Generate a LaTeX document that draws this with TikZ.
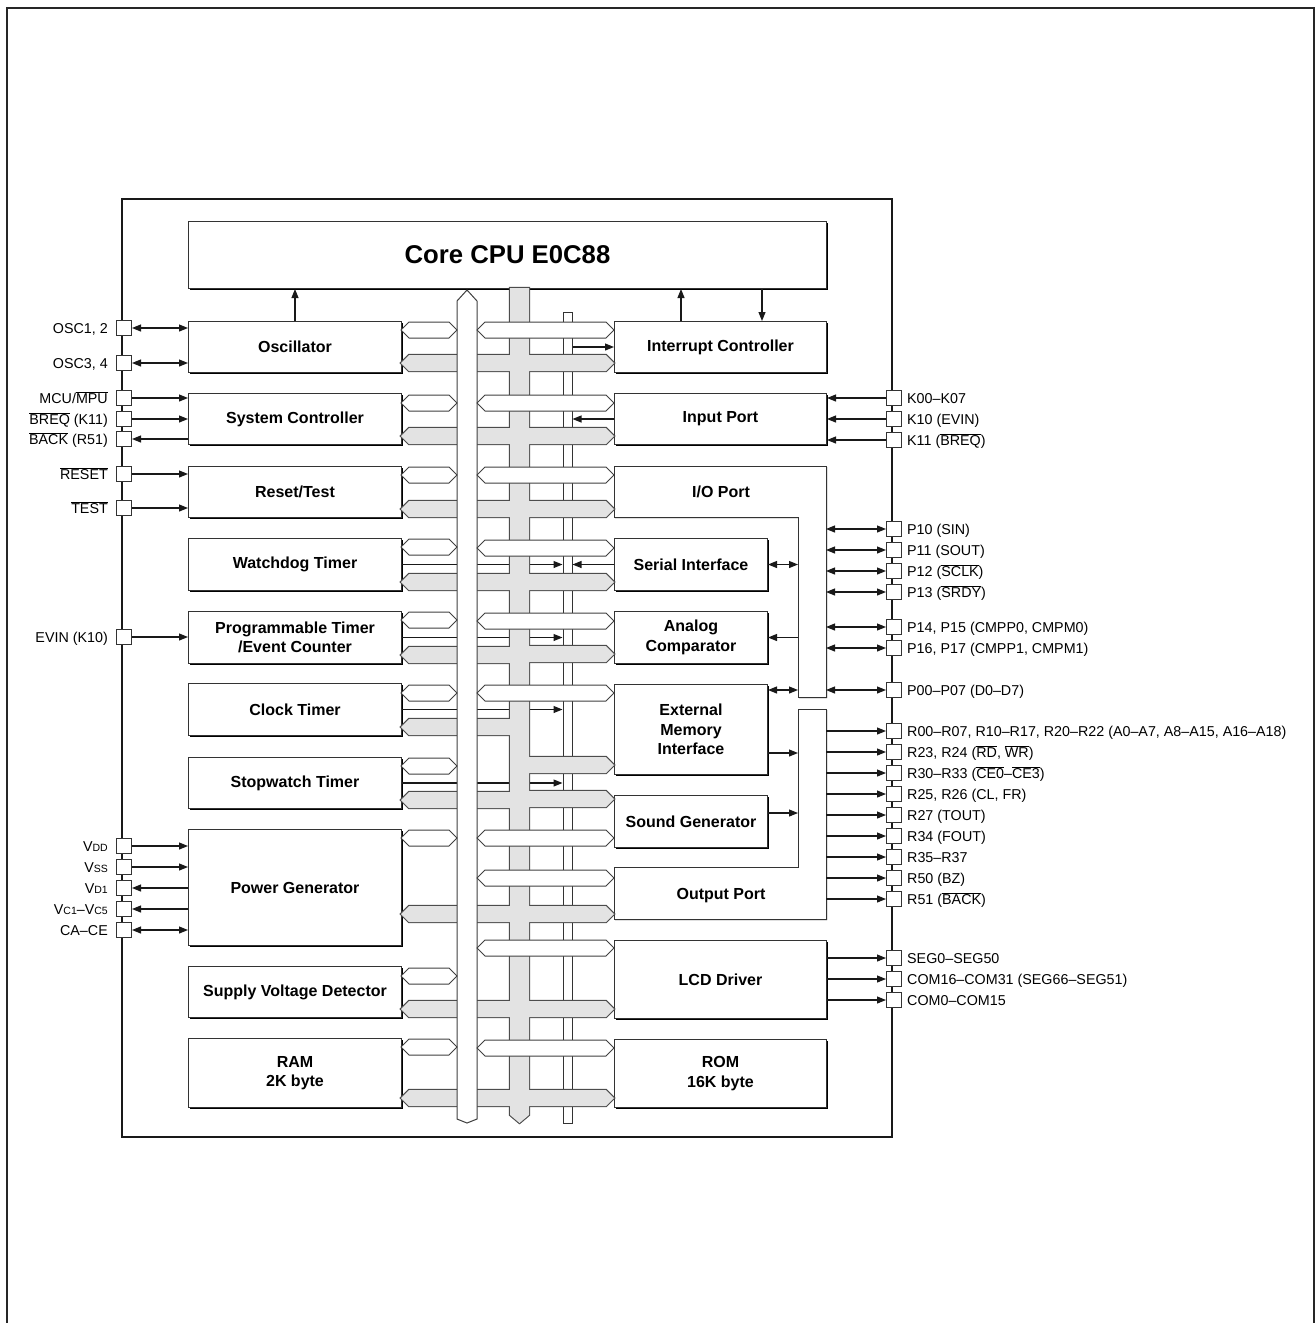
\documentclass[tikz,border=0pt]{standalone}
\usepackage{fontspec}
\setmainfont{Liberation Sans}
\usepackage{tikz}
\usetikzlibrary{arrows.meta,positioning,shadows}

\newcommand{\ovl}[1]{$\overline{\hbox{#1}}$}
\newcommand{\vsub}[1]{{\fontsize{10.5}{12}\selectfont #1}}

\tikzset{
  blk/.style={draw=black!80, fill=white, line width=1pt, inner sep=0pt,
    align=center, font=\bfseries\fontsize{16}{19.5}\selectfont,
    general shadow={fill=black, shadow xshift=1.2pt, shadow yshift=-1.2pt}},
  lblk/.style={blk, anchor=north west, minimum width=213pt},
  rblk/.style={blk, anchor=north west},
  blkline/.style={draw=black!80, fill=white, line width=1pt,
    general shadow={fill=black, shadow xshift=1.2pt, shadow yshift=-1.2pt}},
  padbox/.style={draw=black!80, fill=white, line width=1pt, minimum size=15pt, inner sep=0pt},
  lbl/.style={inner sep=0pt, text height=10.3pt, text depth=0pt,
    font=\fontsize{14.3}{17}\selectfont},
  sig/.style={draw=black!90, line width=1.1pt},
  fwd/.style={->}, bwd/.style={<-}, bidir/.style={<->},
  gout/.style={draw=black!70, line width=2.2pt},
  gin/.style={fill=black!11},
  wbus/.style={draw=black!75, fill=white, line width=1pt}
}

\begin{document}
\begin{tikzpicture}
          [x=1pt,y=-1pt,>={Triangle[length=9pt,width=7pt]}]
          \useasboundingbox (0,0) rectangle (1315,1323);
          \draw[line width=1.6pt, draw=black!85] (7,1323) -- (7,8) -- (1314,8) -- (1314,1323);
          \draw[line width=1.3pt, draw=black!90] (122,199) rectangle (892,1137);

          \node[blk, anchor=north west, minimum width=638pt, minimum height=67pt,
            font=\bfseries\fontsize{25.7}{30}\selectfont] (cpu) at (188,221) {Core CPU E0C88};

          \node[lblk, minimum height=51pt] (osc) at (188,321) {Oscillator};
          \node[lblk, minimum height=51pt] (sysc) at (188,393) {System Controller};
          \node[lblk, minimum height=51pt] (rst) at (188,466) {Reset/Test};
          \node[lblk, minimum height=52pt] (wdt) at (188,538) {Watchdog Timer};
          \node[lblk, minimum height=52pt] (ptm) at (188,611) {Programmable Timer\\/Event Counter};
          \node[lblk, minimum height=52pt] (clk) at (188,683) {Clock Timer};
          \node[lblk, minimum height=51pt] (swt) at (188,757) {Stopwatch Timer};
          \node[lblk, minimum height=116pt] (pwr) at (188,829) {Power Generator};
          \node[lblk, minimum height=51pt] (svd) at (188,966) {Supply Voltage Detector};
          \node[lblk, minimum height=69pt] (ram) at (188,1038) {RAM\\2K byte};

          \node[rblk, minimum width=212pt, minimum height=51pt] (intc) at (614,321) {Interrupt Controller};
          \node[rblk, minimum width=212pt, minimum height=51pt] (inp) at (614,393) {Input Port};
          \node[rblk, minimum width=153pt, minimum height=52pt] (sio) at (614,538) {Serial Interface};
          \node[rblk, minimum width=153pt, minimum height=52pt] (cmp) at (614,611) {Analog\\Comparator};
          \node[rblk, minimum width=153pt, minimum height=90pt] (emi) at (614,684) {External\\Memory\\Interface};
          \node[rblk, minimum width=153pt, minimum height=52pt] (snd) at (614,795) {Sound Generator};
          \node[rblk, minimum width=212pt, minimum height=78pt] (lcd) at (614,940) {LCD Driver};
          \node[rblk, minimum width=212pt, minimum height=68pt] (rom) at (614,1039) {ROM\\16K byte};

          % I/O port and output port
          \draw[blkline] (614,466) -- (826,466) -- (826,697) -- (798,697) -- (798,517) -- (614,517) -- cycle;
          \node[font=\bfseries\fontsize{16}{19.5}\selectfont] (iop) at (721,492) {I/O Port};
          \coordinate (iox) at (798,600);
          \coordinate (ioe) at (826,600);
          \draw[blkline] (614,867) -- (798,867) -- (798,709) -- (826,709) -- (826,919) -- (614,919) -- cycle;
          \node[font=\bfseries\fontsize{16}{19.5}\selectfont] (opp) at (721,896) {Output Port};
          \coordinate (opx) at (798,800);
          \coordinate (ope) at (826,800);

          % interrupt line
          \node[draw=black!80, fill=white, line width=1pt, inner sep=0pt,
            minimum width=9pt, minimum height=811pt] (irq) at (567.5,717.5) {};
          \foreach \b in {wdt,ptm,clk,swt}
            \draw[sig,->] (\b.east) -- (\b.east -| irq.west);

          % grey bus: outline pass, then fill pass
          \foreach \p in {gout,gin} {
            \path[\p] (510,288) -- (529,288) -- (529,1115) -- (519.5,1123) -- (510,1115) -- cycle;
            \foreach \y in {363,436,509,582,655,727,800,914,1009,1098}
              \path[\p] (401,\y) -- (409,\y-8) -- (516,\y-8) -- (516,\y+8) -- (409,\y+8) -- cycle;
            \foreach \y in {363,436,509,582,654,765,799,914,1009,1098}
              \path[\p] (523,\y-8) -- (606,\y-8) -- (614,\y) -- (606,\y+8) -- (523,\y+8) -- cycle;
          }

          % white bus
          \draw[wbus] (457,301) -- (467,290) -- (477,301) -- (477,1119) -- (467,1123) -- (457,1119) -- cycle;
          \foreach \y in {330,403,475,547,620,693,766,838,976,1047}
            \draw[wbus] (401,\y) -- (409,\y-8) -- (449,\y-8) -- (457,\y) -- (449,\y+8) -- (409,\y+8) -- cycle;
          \foreach \y in {330,403,475,548,621,693,838,878,948,1048}
            \draw[wbus] (477,\y) -- (485,\y-8) -- (606,\y-8) -- (614,\y) -- (606,\y+8) -- (485,\y+8) -- cycle;

          \coordinate (iu) at ([xshift=67pt]intc.north west);
          \coordinate (id) at ([xshift=148pt]intc.north west);
          \draw[sig,->] (osc.north) -- (osc.north |- cpu.south);
          \draw[sig,->] (iu) -- (iu |- cpu.south);
          \draw[sig,->] (id |- cpu.south) -- (id);

          \draw[sig,->] (intc.west -| irq.east) -- (intc.west);
          \draw[sig,->] (inp.west) -- (inp.west -| irq.east);
          \draw[sig,->] (sio.west) -- (sio.west -| irq.east);

          \coordinate (ea) at ([yshift=-6pt]emi.north east);
          \coordinate (eb) at ([yshift=22pt]emi.south east);
          \coordinate (sa) at ([yshift=-18pt]snd.north east);
          \draw[sig,<->] (sio.east) -- (sio.east -| iox);
          \draw[sig,<-] (cmp.east) -- (cmp.east -| iox);
          \draw[sig,<->] (ea) -- (ea -| iox);
          \draw[sig,->] (eb) -- (eb -| opx);
          \draw[sig,->] (sa) -- (sa -| opx);

          % left pins
          \foreach \n/\y/\t/\b/\a in {
              osca/328/{OSC1, 2}/osc/bidir,
              oscb/363/{OSC3, 4}/osc/bidir,
              mcu/398/{MCU/\ovl{MPU}}/sysc/fwd,
              breq/419/{\ovl{BREQ} (K11)}/sysc/fwd,
              back/439/{\ovl{BACK} (R51)}/sysc/bwd,
              rset/474/{\ovl{RESET}}/rst/fwd,
              test/508/{\ovl{TEST}}/rst/fwd,
              evin/637/{EVIN (K10)}/ptm/fwd,
              vdd/846/{V\vsub{DD}}/pwr/fwd,
              vss/867/{V\vsub{SS}}/pwr/fwd,
              vdi/888/{V\vsub{D1}}/pwr/bwd,
              vcc/909/{V\vsub{C1}–V\vsub{C5}}/pwr/bwd,
              cace/930/{CA–CE}/pwr/bidir} {
            \node[padbox] (\n) at (124,\y) {};
            \node[lbl, left=8pt of \n] (\n-t) {\t};
            \draw[sig,\a] (\n) -- (\n -| \b.west);
          }

          % right pins
          \foreach \n/\y/\t/\s/\a in {
              pk0/398/{K00–K07}/inp.east/bwd,
              pk10/419/{K10 (EVIN)}/inp.east/bwd,
              pk11/440/{K11 (\ovl{BREQ})}/inp.east/bwd,
              pp10/529/{P10 (SIN)}/ioe/bidir,
              pp11/550/{P11 (SOUT)}/ioe/bidir,
              pp12/571/{P12 (\ovl{SCLK})}/ioe/bidir,
              pp13/592/{P13 (\ovl{SRDY})}/ioe/bidir,
              pp14/627/{P14, P15 (CMPP0, CMPM0)}/ioe/bidir,
              pp16/648/{P16, P17 (CMPP1, CMPM1)}/ioe/bidir,
              pp00/690/{P00–P07 (D0–D7)}/ioe/bidir,
              pr00/731/{R00–R07, R10–R17, R20–R22 (A0–A7, A8–A15, A16–A18)}/ope/fwd,
              pr23/752/{R23, R24 (\ovl{RD}, \ovl{WR})}/ope/fwd,
              pr30/773/{R30–R33 (\ovl{CE0}–\ovl{CE3})}/ope/fwd,
              pr25/794/{R25, R26 (CL, FR)}/ope/fwd,
              pr27/815/{R27 (TOUT)}/ope/fwd,
              pr34/836/{R34 (FOUT)}/ope/fwd,
              pr35/857/{R35–R37}/ope/fwd,
              pr50/878/{R50 (BZ)}/ope/fwd,
              pr51/899/{R51 (\ovl{BACK})}/ope/fwd,
              pseg/958/{SEG0–SEG50}/lcd.east/fwd,
              pc16/979/{COM16–COM31 (SEG66–SEG51)}/lcd.east/fwd,
              pc0/1000/{COM0–COM15}/lcd.east/fwd} {
            \node[padbox] (\n) at (894,\y) {};
            \node[lbl, right=5pt of \n] (\n-t) {\t};
            \draw[sig,\a] (\s |- \n) -- (\n);
          }

        \end{tikzpicture}
\end{document}
